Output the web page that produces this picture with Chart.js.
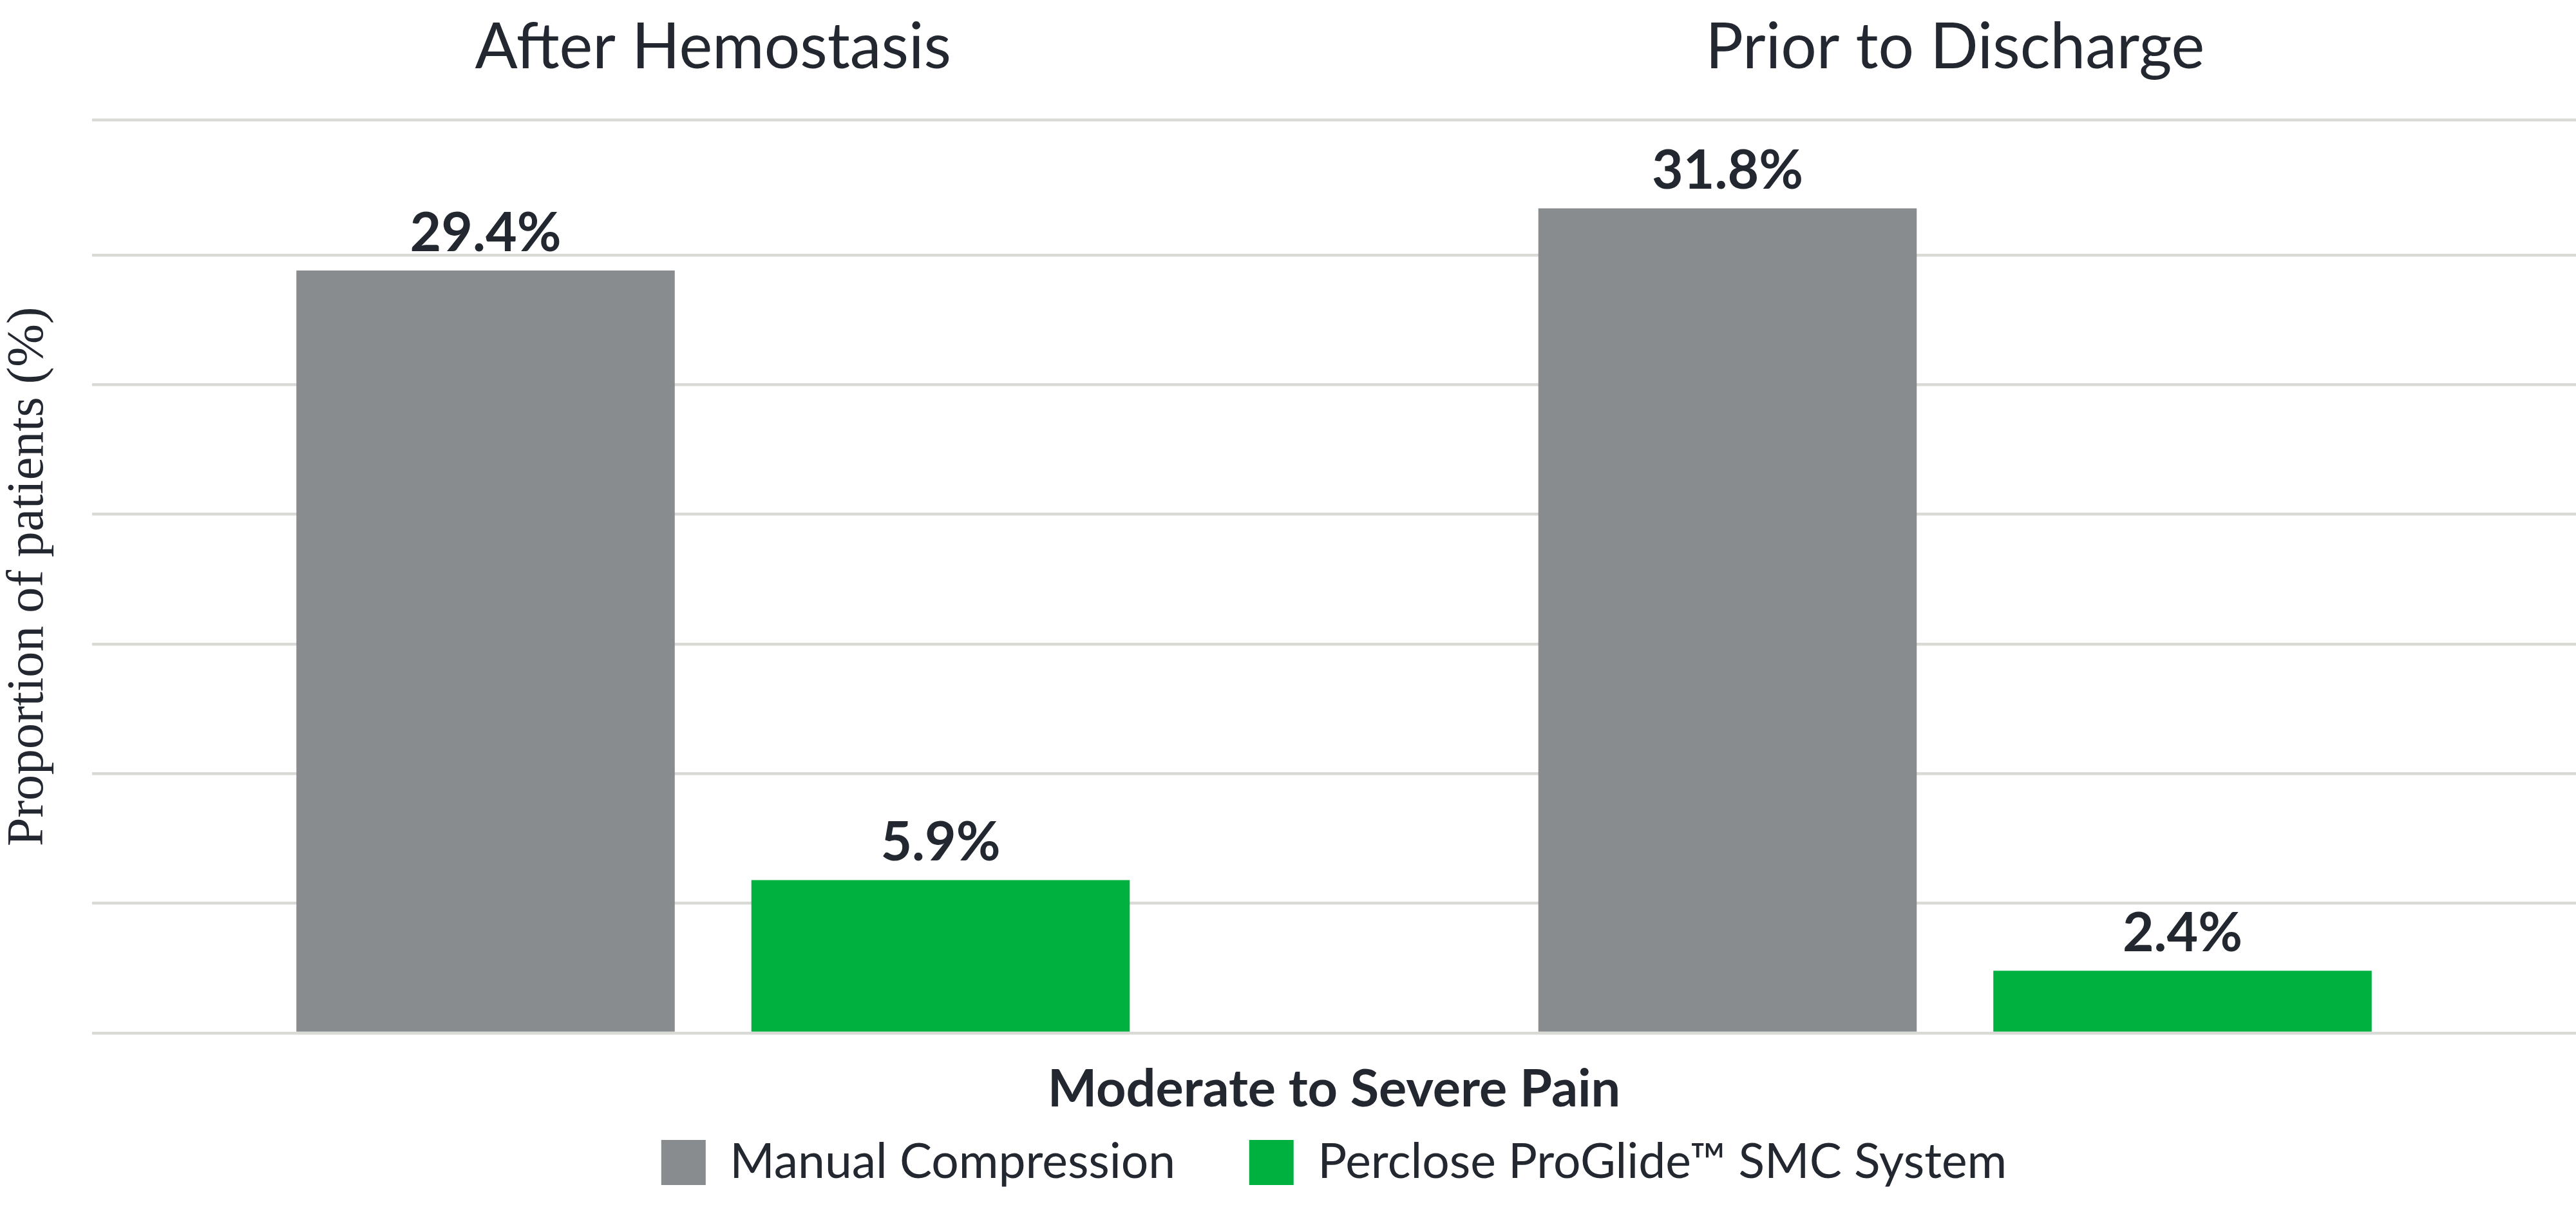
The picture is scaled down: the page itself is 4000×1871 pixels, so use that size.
<!DOCTYPE html>
<html>
<head>
<meta charset="utf-8">
<script src="https://cdn.jsdelivr.net/npm/chart.js@4.4.1/dist/chart.umd.min.js"></script>
<style>
    html, body { margin: 0; padding: 0; background: #ffffff; overflow: hidden; }
</style>
</head>
<body>
<canvas id="grafico" width="4000" height="1871"></canvas>
<script>
// Datos
const categorias = ["After Hemostasis", "Prior to Discharge"];
const nombresSeries = ["Manual Compression", "Perclose ProGlide™ SMC System"];
const compresionManual = [29.4, 31.8];
const perclose = [5.9, 2.4];
const coloresSeries = ["#898c8e", "#00b140"];
const marcasEjeY = [0, 5, 10, 15, 20, 25, 30, 35.2];
const tituloEjeY = "Proportion of patients (%)";
const tituloEjeX = "Moderate to Severe Pain";

const colorTexto = "#23272f";
const colorGrilla = "#d9d9d6";

Chart.defaults.font.family = "Lato";
Chart.defaults.color = colorTexto;

// Etiquetas de porcentaje sobre cada barra
const etiquetasDeValor = {
    id: "etiquetasDeValor",
    afterDatasetsDraw(chart) {
        const ctx = chart.ctx;
        ctx.save();
        ctx.font = "bold 84px Lato";
        ctx.fillStyle = colorTexto;
        ctx.textAlign = "center";
        ctx.textBaseline = "alphabetic";
        chart.data.datasets.forEach((dataset, i) => {
            chart.getDatasetMeta(i).data.forEach((barra, j) => {
                ctx.fillText(`${dataset.data[j]}%`, barra.x, barra.y - 30);
            });
        });
        ctx.restore();
    }
};

const serie = (indice, datos) => ({
    label: nombresSeries[indice],
    data: datos,
    backgroundColor: coloresSeries[indice],
    borderWidth: 0,
    categoryPercentage: 0.7327,
    barPercentage: 0.8316
});

new Chart(document.getElementById("grafico"), {
    type: "bar",
    data: {
        labels: categorias,
        datasets: [serie(0, compresionManual), serie(1, perclose)]
    },
    plugins: [etiquetasDeValor],
    options: {
        responsive: false,
        animation: false,
        devicePixelRatio: 1,
        layout: { padding: { top: 0, right: 0, bottom: 18.5, left: 0 } },
        plugins: {
            tooltip: { enabled: false },
            legend: {
                position: "bottom",
                fullSize: false,
                labels: {
                    boxWidth: 69,
                    boxHeight: 70,
                    padding: 114.5,
                    color: colorTexto,
                    font: { size: 75, family: "Lato" }
                }
            }
        },
        scales: {
            x: {
                type: "category",
                offset: true,
                grid: { display: false },
                border: { display: false },
                ticks: { display: false },
                title: {
                    display: true,
                    text: tituloEjeX,
                    color: colorTexto,
                    font: { size: 81, weight: "bold", family: "Lato", lineHeight: 1.2 },
                    padding: { top: 0, bottom: -87.6 }
                },
                afterFit(escala) { escala.height = 49; }
            },
            xSuperior: {
                type: "category",
                position: "top",
                offset: true,
                grid: { display: false },
                border: { display: false },
                ticks: {
                    color: colorTexto,
                    padding: 45,
                    maxRotation: 0,
                    autoSkip: false,
                    font: { size: 98, family: "Lato", lineHeight: 1.2 }
                },
                afterFit(escala) { escala.height = 186.5; }
            },
            y: {
                min: 0,
                max: marcasEjeY[marcasEjeY.length - 1],
                afterBuildTicks(eje) { eje.ticks = marcasEjeY.map(v => ({ value: v })); },
                grid: { color: colorGrilla, lineWidth: 4.5, drawTicks: false },
                border: { display: false },
                ticks: { display: false },
                title: {
                    display: true,
                    text: tituloEjeY,
                    color: colorTexto,
                    font: { size: 80, family: "Liberation Serif", lineHeight: 1.0 },
                    padding: { top: 5, bottom: 0 }
                },
                afterFit(escala) { escala.width = 143; }
            }
        }
    }
});
</script>
</body>
</html>
